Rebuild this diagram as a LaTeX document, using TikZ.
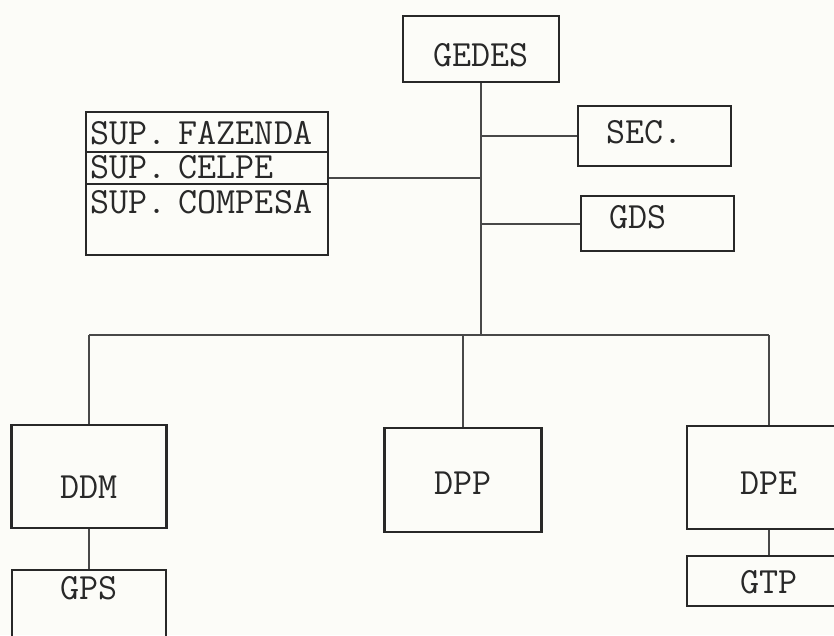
\documentclass[tikz,border=0pt]{standalone}
\usetikzlibrary{calc}
\definecolor{paper}{RGB}{252,252,248}
\definecolor{ink}{RGB}{40,40,40}

\begin{document}
\begin{tikzpicture}[
  x=1pt,y=-1pt,
  font=\ttfamily\fontsize{37}{42}\selectfont,
  bx/.style ={draw=ink,text=ink,line width=2.4pt,inner xsep=2pt,inner ysep=2pt,align=center},
  lf/.style ={bx,align=left,inner xsep=28pt,text width=97pt},
  sp/.style ={bx,align=left,inner xsep=4pt,text width=234pt},
  ln/.style ={draw=ink!85,line width=2pt}
]
% ======== frame
\fill[paper] (0,0) rectangle (834,635);
\useasboundingbox (0,0) rectangle (834,635);
\clip (0,0) rectangle (834,635);

% ======== top
\node[bx,anchor=north,minimum width=156pt,text height=48pt,text depth=14pt] (gedes) at (481,15) {GEDES};
\node[lf,anchor=north west,text height=35pt,text depth=21pt] (sec) at (577,105) {SEC.};
\node[lf,anchor=north west,text height=30pt,text depth=21pt] (gds) at (580,195) {GDS};

% ======== superintendencias
\node[sp,anchor=north west,text height=30pt,text depth=6pt]  (supfaz) at (85,111) {SUP. FAZENDA};
\node[sp,anchor=north west,text height=24pt,text depth=4pt]  (supcel) at (85,151) {SUP. CELPE};
\node[sp,anchor=north west,text height=27pt,text depth=40pt] (supcom) at (85,183) {SUP. COMPESA};

% ======== directorias
\node[bx,anchor=north,minimum width=155pt,text height=71pt,text depth=28pt] (ddm) at (89,424)  {DDM};
\node[bx,anchor=north,minimum width=157pt,text height=64pt,text depth=36pt] (dpp) at (463,427) {DPP};
\node[bx,anchor=north west,minimum width=164pt,text height=66pt,text depth=33pt] (dpe) at (686,425) {DPE};

% ======== gerencias
\node[bx,anchor=north,minimum width=154pt,text height=27pt,text depth=70pt] (gps) at (89,569) {GPS};
\node[bx,anchor=north west,minimum width=164pt,text height=35pt,text depth=11pt] (gtp) at (686,555) {GTP};

% ======== connectors
\coordinate (bus) at (481,335);
\draw[ln] (gedes.south) -- (bus);
\draw[ln] (gedes.south |- sec.west) -- (sec.west);
\draw[ln] (gedes.south |- gds.west) -- (gds.west);
\draw[ln] ([yshift=-10pt]supcel.east) -- ([yshift=-10pt]gedes.south |- supcel.east);
\draw[ln] (ddm.north |- bus) -- (dpe.north |- bus);
\draw[ln] (ddm.north |- bus) -- (ddm.north);
\draw[ln] (dpp.north |- bus) -- (dpp.north);
\draw[ln] (dpe.north |- bus) -- (dpe.north);
\draw[ln] (ddm.south) -- (gps.north);
\draw[ln] (dpe.south) -- (gtp.north);
\end{tikzpicture}
\end{document}
